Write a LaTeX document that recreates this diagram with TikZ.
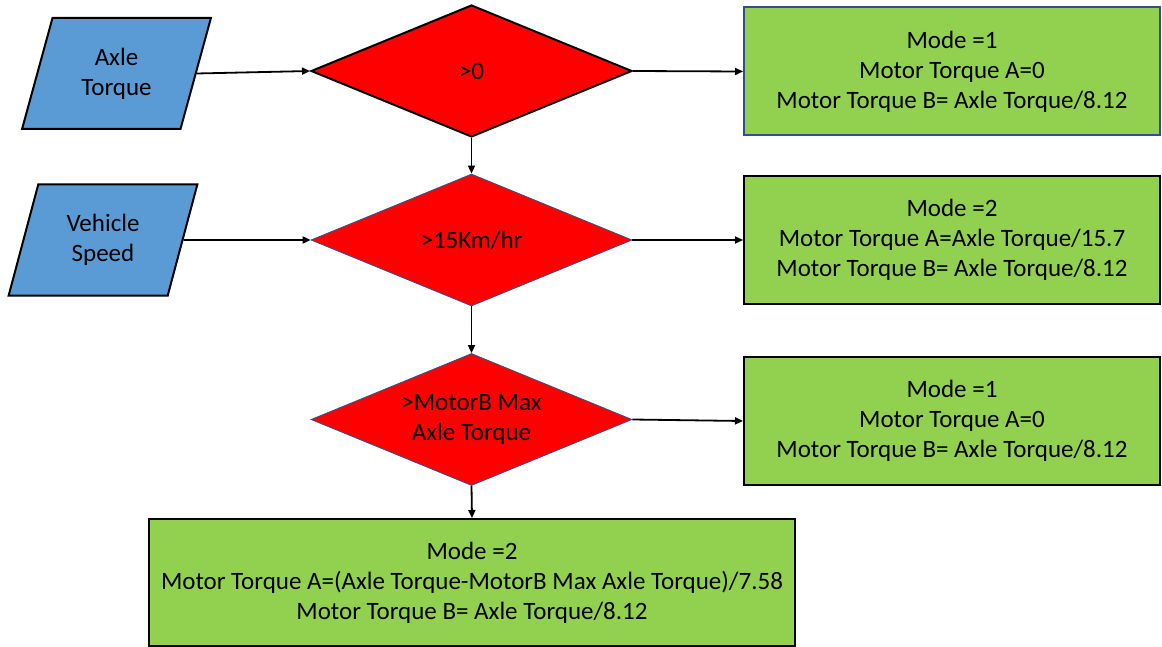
\documentclass[tikz,border=0pt]{standalone}
\usepackage{fontspec}
\setmainfont{Carlito}
\usepackage{tikz}
\usetikzlibrary{shapes.geometric,arrows.meta}
\definecolor{inblue}{HTML}{5B9BD5}
\definecolor{modegreen}{HTML}{92D050}
\definecolor{edgeblue}{HTML}{2F528F}
\tikzset{
  txt/.style={font=\fontsize{25}{30}\selectfont, align=center, inner sep=0pt},
  inbox/.style={txt, trapezium, trapezium left angle=72, trapezium right angle=108, trapezium stretches=true, fill=inblue, draw=black, line width=2pt, minimum width=189pt, minimum height=111pt},
  test/.style={txt, diamond, aspect=2.43, fill=red, minimum width=321pt, minimum height=132pt},
  modebox/.style={txt, rectangle, fill=modegreen, draw=black, line width=2pt, minimum width=416pt, minimum height=128pt},
  flow/.style={line width=1.8pt, -{Triangle[length=8pt,width=7pt]}}
}

\begin{document}
\begin{tikzpicture}[x=1pt,y=-1pt]
        \useasboundingbox (0,0) rectangle (1162,647);
        \node[inbox] (torque) at (116.5,73.5) {Axle\\Torque}; \node[inbox] (speed) at (103,240) {Vehicle\\Speed};

        \node[test, draw=black, line width=2pt] (pos) at (471.5,71) {>0}; \node[test, draw=edgeblue, line width=0.8pt] (fast) at (471.5,240) {>15Km/hr}; \node[test, draw=edgeblue, line width=0.8pt] (limit) at (471.5,419.5) {>MotorB Max\\Axle Torque};

        \node[modebox, draw=edgeblue] (modeA) at (952,71.5) {Mode =1\\Motor Torque A=0\\Motor Torque B= Axle Torque/8.12};
        \node[modebox] (modeB) at (952,240) {Mode =2\\Motor Torque A=Axle Torque/15.7\\Motor Torque B= Axle Torque/8.12};
        \node[modebox] (modeC) at (952,421) {Mode =1\\Motor Torque A=0\\Motor Torque B= Axle Torque/8.12};
        \node[modebox, minimum width=646pt, minimum height=127pt] (modeD) at (472,582.5) {Mode =2\\Motor Torque A=(Axle Torque-MotorB Max Axle Torque)/7.58\\Motor Torque B= Axle Torque/8.12};

        \draw[flow] (torque.east) -- (pos.west); \draw[flow] (speed.east) -- (fast.west);
        \draw[flow] (pos.east) -- (modeA.west); \draw[flow] (fast.east) -- (modeB.west); \draw[flow] (limit.east) -- (modeC.west);
        \draw[flow] (pos.south) -- (fast.north); \draw[flow] (fast.south) -- (limit.north); \draw[flow] (limit.south) -- (modeD.north);
    \end{tikzpicture}
\end{document}
